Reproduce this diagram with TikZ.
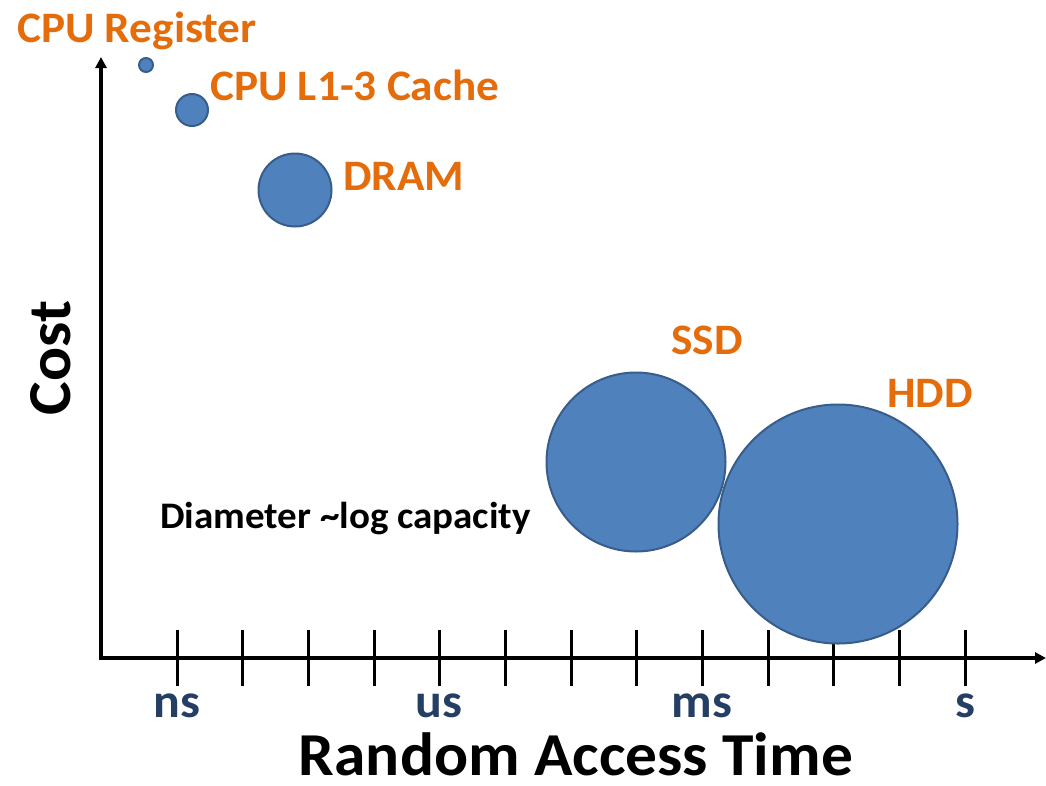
\documentclass[tikz,border=0pt]{standalone}
\usepackage{fontspec}
\setmainfont[FakeStretch=1.04]{Carlito}
\usetikzlibrary{arrows.meta}

\definecolor{memfill}{RGB}{79,129,189}
\definecolor{memedge}{RGB}{56,93,138}
\definecolor{memlabel}{RGB}{228,108,10}
\definecolor{unitlabel}{RGB}{36,62,100}

\tikzset{
  axis/.style={line width=4pt, -{Triangle[length=11pt,width=11pt]}},
  tick/.style={line width=3pt},
  mem/.style={circle, draw=memedge, line width=2pt, fill=memfill, inner sep=0pt},
  memname/.style={text=memlabel, font=\fontsize{43.5}{50}\selectfont\bfseries, anchor=base west, inner sep=0pt},
  unit/.style={text=unitlabel, font=\fontsize{48}{54}\selectfont\bfseries, anchor=base, inner sep=0pt},
  title/.style={font=\fontsize{61}{70}\selectfont\bfseries, inner sep=0pt, text depth=0pt},
}

\begin{document}
\begin{tikzpicture}[x=1pt, y=-1pt]
  \useasboundingbox (0,0) rectangle (1046,785);

  % axes
  \coordinate (origin) at (101,658);
  \coordinate (ytip) at (101,57);
  \coordinate (xtip) at (1046,658);
  \draw[axis] ([yshift=-2pt]origin) -- (ytip);
  \draw[axis] ([xshift=-2pt]origin) -- (xtip);

  % tick marks along the time axis
  \foreach \i in {0,...,12} {
    \coordinate (t\i) at ({177+65.67*\i},658);
    \draw[tick] ([yshift=28pt]t\i) -- ([yshift=-28pt]t\i);
  }

  % unit labels
  \node[unit] (ns) at (177,717) {ns};
  \node[unit] (us) at (439,717) {us};
  \node[unit] (msec) at (702,717) {ms};
  \node[unit] (sec) at (965,717) {s};

  % axis titles
  \node[title, anchor=base] (xtitle) at (576,775) {Random Access Time};
  \node[title, anchor=base, rotate=90] (ytitle) at (70,358) {Cost};

  % memory hierarchy bubbles
  \node[mem, minimum size=14pt] (reg) at (146,65) {};
  \node[mem, minimum size=32pt] (cache) at (192,110) {};
  \node[mem, minimum size=73pt] (dram) at (295,190) {};
  \node[mem, minimum size=179pt] (ssd) at (636,462) {};
  \node[mem, minimum size=239pt] (hdd) at (838,524) {};

  % bubble names
  \node[memname] (regname) at (17,42) {CPU Register};
  \node[memname] (cachename) at (210,100) {CPU L1-3 Cache};
  \node[memname] (dramname) at (343,190) {DRAM};
  \node[memname] (ssdname) at (671,354) {SSD};
  \node[memname] (hddname) at (887,407) {HDD};

  % legend note
  \node[font=\fontsize{37.5}{42}\selectfont\bfseries, anchor=base west, inner sep=0pt] (note) at (160,528) {Diameter \textasciitilde log capacity};
\end{tikzpicture}
\end{document}
